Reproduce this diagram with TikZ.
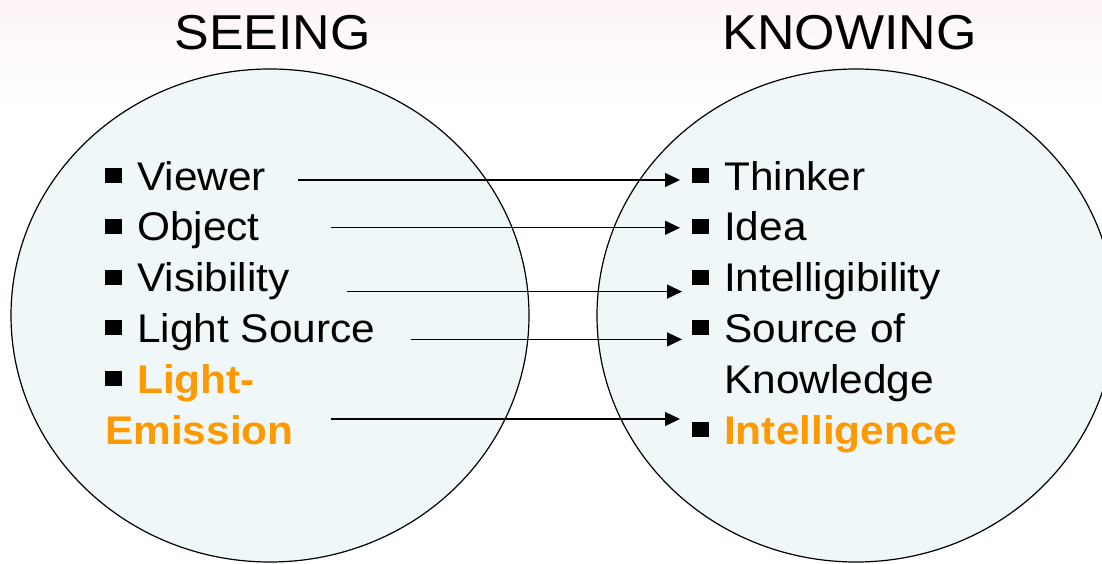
\documentclass[tikz,border=0pt]{standalone}
\usepackage{fontspec}
\setmainfont{Liberation Sans}[FakeStretch=1.06]
\usetikzlibrary{shapes.geometric, arrows.meta, positioning}
\definecolor{ballfill}{RGB}{239,247,249}
\definecolor{hilite}{RGB}{255,153,0}
\definecolor{blush}{RGB}{253,244,246}
\newcommand{\sqbul}{\raisebox{7pt}{\rule{17pt}{15pt}}\hspace{15pt}}
\tikzset{
  ball/.style={ellipse, draw=black, line width=1.2pt, fill=ballfill, inner sep=0pt, outer sep=0pt, minimum width=518pt, minimum height=493pt},
  heading/.style={anchor=base, inner sep=0pt, font=\fontsize{49}{59}\selectfont},
  item/.style={anchor=base west, inner sep=0pt, align=left, font=\fontsize{40}{50.8}\selectfont},
  hot/.style={text=hilite, font=\fontsize{40}{50.8}\selectfont\bfseries},
  arrow/.style={line width=1.3pt, -{Triangle[length=15pt,width=14pt]}, shorten >=12pt}
}

\begin{document}
\begin{tikzpicture}[x=1pt, y=-1pt]
    \useasboundingbox (0,0) rectangle (1102,564);
    \shade[top color=blush, bottom color=white] (0,0) rectangle (1102,110);

    % the two circles and their titles
    \begin{scope}
      \clip (0,0) rectangle (1102,564);
      \node (seeball) [ball] at (270,315.5) {};
      \node (knowball) [ball] at (856,315.5) {};
    \end{scope}
    \node (seeing) [heading] at (272.5,50) {SEEING};
    \node (knowing) [heading] at (849.5,50) {KNOWING};

    % left list
    \node (viewer) [item] at (105,190) {\sqbul Viewer};
    \node (object) [item, below=50.8pt of viewer.base west, anchor=base west] {\sqbul Object};
    \node (visibility) [item, below=50.8pt of object.base west, anchor=base west] {\sqbul Visibility};
    \node (lightsrc) [item, below=50.8pt of visibility.base west, anchor=base west] {\sqbul Light Source};
    \node (emission) [item, hot, below=101.6pt of lightsrc.base west, anchor=base west] {{\color{black}\sqbul}Light-\\Emission};

    % right list
    \node (thinker) [item] at (692,190) {\sqbul Thinker};
    \node (idea) [item, below=50.8pt of thinker.base west, anchor=base west] {\sqbul Idea};
    \node (intellig) [item, below=50.8pt of idea.base west, anchor=base west] {\sqbul Intelligibility};
    \node (source) [item, below=101.6pt of intellig.base west, anchor=base west] {\sqbul Source of\\\hspace*{32pt}Knowledge};
    \node (intelligence) [item, hot, below=50.8pt of source.base west, anchor=base west] {{\color{black}\sqbul}Intelligence};

    % seeing -> knowing
    \draw[arrow] ([xshift=32pt,yshift=10pt]viewer.base east) -- ([yshift=10pt]viewer.base east -| thinker.west);
    \draw[arrow] ([xshift=71pt,yshift=13pt]object.base east) -- ([yshift=13pt]object.base east -| idea.west);
    \draw[arrow] ([xshift=57pt]visibility.base east) -- ([xshift=2pt]visibility.base east -| intellig.west);
    \draw[arrow] ([xshift=36pt,yshift=3pt]lightsrc.base east) -- ([xshift=2pt,yshift=3pt]lightsrc.base east -| source.west);
    \draw[arrow] ([xshift=37pt,yshift=25pt]emission.base east) -- ([yshift=25pt]emission.base east -| intelligence.west);
\end{tikzpicture}
\end{document}
